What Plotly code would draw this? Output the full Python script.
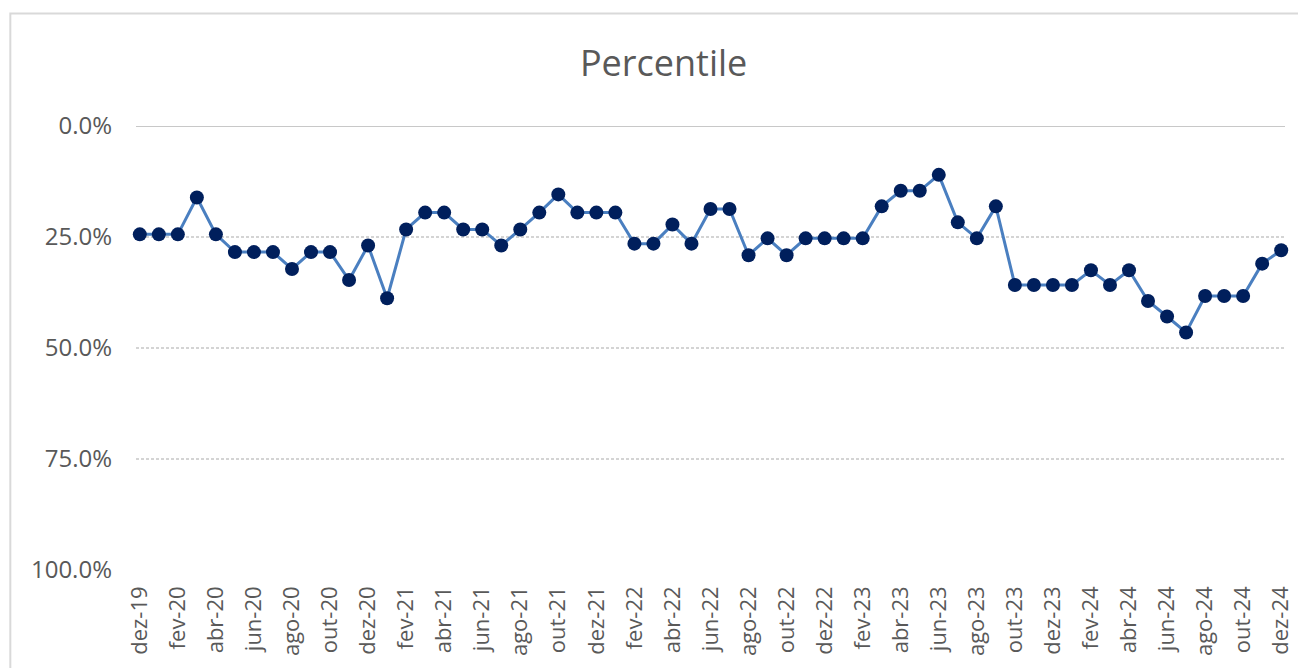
import plotly.graph_objects as go

# monthly labels dez-19 .. dez-24
months = ["dez-19",
          "jan-20", "fev-20", "mar-20", "abr-20", "mai-20", "jun-20", "jul-20", "ago-20", "set-20", "out-20", "nov-20", "dez-20",
          "jan-21", "fev-21", "mar-21", "abr-21", "mai-21", "jun-21", "jul-21", "ago-21", "set-21", "out-21", "nov-21", "dez-21",
          "jan-22", "fev-22", "mar-22", "abr-22", "mai-22", "jun-22", "jul-22", "ago-22", "set-22", "out-22", "nov-22", "dez-22",
          "jan-23", "fev-23", "mar-23", "abr-23", "mai-23", "jun-23", "jul-23", "ago-23", "set-23", "out-23", "nov-23", "dez-23",
          "jan-24", "fev-24", "mar-24", "abr-24", "mai-24", "jun-24", "jul-24", "ago-24", "set-24", "out-24", "nov-24", "dez-24"]

percentile = [0.244,
              0.244, 0.244, 0.161, 0.244, 0.284, 0.284, 0.284, 0.322, 0.284, 0.284, 0.347, 0.269,
              0.388, 0.233, 0.195, 0.195, 0.233, 0.233, 0.269, 0.233, 0.195, 0.154, 0.195, 0.195,
              0.195, 0.265, 0.265, 0.222, 0.265, 0.187, 0.187, 0.291, 0.253, 0.291, 0.253, 0.253,
              0.253, 0.253, 0.181, 0.146, 0.146, 0.110, 0.217, 0.253, 0.181, 0.358, 0.358, 0.358,
              0.358, 0.325, 0.358, 0.325, 0.394, 0.429, 0.465, 0.383, 0.383, 0.383, 0.310, 0.280]

y_ticks = [0, 0.25, 0.5, 0.75, 1.0]

# page has an 8px body margin, so the figure is a bit smaller and everything is shifted
OFF = 8
W, H = 1306 - OFF, 668 - OFF
L, R, T, B = 136 - OFF, 18, 126 - OFF, 96
pw, ph = W - L - R, H - T - B


def px(x):
    return (x - OFF - L) / pw


def py(y):
    return (H - B - (y - OFF)) / ph


txt = "#595959"
font = "Open Sans"

fig = go.Figure()
fig.add_trace(go.Scatter(
    x=months, y=percentile, mode="lines+markers",
    line=dict(color="#4a7fc0", width=3),
    marker=dict(color="#001f5c", size=14),
    cliponaxis=False, showlegend=False))

fig.update_layout(
    width=W, height=H,
    margin=dict(l=L, r=R, t=T, b=B),
    paper_bgcolor="white", plot_bgcolor="white",
    title=dict(text="Percentile", x=px(665), xanchor="center", xref="paper",
               y=1 - (63 - OFF) / H, yanchor="middle",
               font=dict(family=font, size=36, color=txt)),
    font=dict(family=font, color=txt),
    xaxis=dict(type="category", range=[-0.2, 60.2], tickvals=months[::2],
               tickangle=-90, showgrid=False, showline=False, zeroline=False,
               ticks="", ticklabelstandoff=11, tickfont=dict(size=22, color=txt)),
    yaxis=dict(range=[1, 0], tickvals=y_ticks, tickformat=".1%",
               showgrid=True, gridcolor="#d4d4d4", griddash="3px,2px", gridwidth=1.5,
               zeroline=False, showline=False, ticks="", ticklabelstandoff=23,
               tickfont=dict(size=24, color=txt)),
    shapes=[
        dict(type="line", xref="paper", yref="y", x0=0, x1=1, y0=0, y1=0,
             line=dict(color="#c8c8c8", width=2), layer="below"),
        dict(type="rect", xref="paper", yref="paper",
             x0=px(10), x1=px(1330), y0=py(13), y1=py(700),
             line=dict(color="#d9d9d9", width=2), fillcolor="rgba(0,0,0,0)"),
    ],
)

fig.write_html("out.html")
